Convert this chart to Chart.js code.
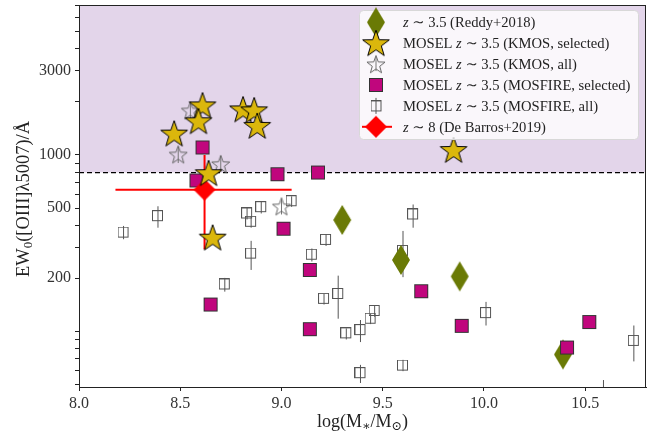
<!DOCTYPE html>
<html>
<head>
<meta charset="utf-8">
<script src="https://cdn.jsdelivr.net/npm/chart.js@4.4.1/dist/chart.umd.min.js"></script>
<style>
  html, body { margin: 0; padding: 0; background: #fff; }
  #wrap { width: 656px; height: 436px; position: relative; }
</style>
</head>
<body>
<div id="wrap"><canvas id="Chart"></canvas></div>
<script>
// Reddy+2018 (z~3.5)
const reddyMass = [9.30, 9.59, 9.88, 10.39];
const reddyEW = [428, 254, 205, 74];

// MOSEL KMOS, selected
const kmosSelMass = [8.47, 8.61, 8.59, 8.81, 8.865, 8.88, 8.64, 8.66, 9.85];
const kmosSelEW = [1322, 1910, 1552, 1813, 1790, 1461, 788, 340, 1067];

// MOSEL KMOS, all
const kmosAllMass = [8.55, 8.49, 8.70, 9.00];
const kmosAllEW = [1790, 1008, 890, 512];
const kmosAllLo = [1600, 900, 800, 460];
const kmosAllHi = [1950, 1110, 990, 560];

// MOSEL MOSFIRE, selected
const mosSelMass = [8.61, 8.58, 8.98, 9.18, 9.01, 9.14, 8.65, 9.14, 9.69, 9.89, 10.52, 10.41];
const mosSelEW = [1103, 717, 778, 795, 382, 223, 142, 103, 169, 107.5, 113, 81];

// MOSEL MOSFIRE, all
const mosAllMass = [8.22, 8.39, 8.83, 8.90, 8.85, 9.05, 8.85, 8.72, 9.22, 9.15, 9.21, 9.28,
                    9.32, 9.39, 9.44, 9.46, 9.39, 9.65, 9.60, 10.01, 9.60, 10.74, 10.59];
const mosAllEW = [363, 450, 466, 506, 418, 547, 276, 184.5, 330, 272, 153, 163,
                  97.5, 101.7, 118, 130.6, 58, 460, 286, 127, 64, 88.3, 40];
const mosAllLo = [333, 387, 431, 466, 387, 508, 223, 168, 305, 249, 142, 118,
                  90, 87, 110, 121, 51, 387, 203, 108, 59.5, 67.6, 30];
const mosAllHi = [396, 512, 501, 547, 450, 583, 326, 201, 355, 295, 163, 207,
                  104, 116, 126, 141, 64.6, 524, 371, 147, 69, 108, 53];

// De Barros+2019 (z~8)
const dbMass = [8.62];
const dbEW = [636];
const dbMassLo = [8.18];
const dbMassHi = [9.05];
const dbEWLo = [292];
const dbEWHi = [1000];

// EELG cut and axis ticks
const eelgCut = 795;
const xTicks = [8.0, 8.5, 9.0, 9.5, 10.0, 10.5];
const yTicks = [50, 60, 70, 80, 90, 100, 200, 300, 400, 500, 600, 700, 800, 900,
                1000, 2000, 3000, 4000, 5000, 6000, 7000];
const yLabels = [200, 500, 1000, 3000];

const serif = "'Liberation Serif', 'DejaVu Serif', serif";

// marker images
function makeMarker(w, h, draw) {
  const c = document.createElement('canvas');
  c.width = w; c.height = h;
  draw(c.getContext('2d'), w / 2, h / 2);
  return c;
}
function starPath(ctx, cx, cy, R, r) {
  ctx.beginPath();
  for (let i = 0; i < 10; i++) {
    const a = -Math.PI / 2 + i * Math.PI / 5;
    const rad = i % 2 === 0 ? R : r;
    ctx.lineTo(cx + rad * Math.cos(a), cy + rad * Math.sin(a));
  }
  ctx.closePath();
}
function diamondPath(ctx, cx, cy, hw, hh) {
  ctx.beginPath();
  ctx.moveTo(cx, cy - hh); ctx.lineTo(cx + hw, cy);
  ctx.lineTo(cx, cy + hh); ctx.lineTo(cx - hw, cy);
  ctx.closePath();
}

const goldStar = makeMarker(32, 32, (c, x, y) => {
  starPath(c, x, y + 1, 14, 5.6);
  c.fillStyle = '#dbb70c'; c.fill();
  c.strokeStyle = '#000'; c.lineWidth = 1; c.stroke();
});
const openStar = makeMarker(22, 22, (c, x, y) => {
  starPath(c, x, y + 1, 9.5, 3.9);
  c.strokeStyle = '#666'; c.lineWidth = 1; c.stroke();
});
const olive = makeMarker(20, 32, (c, x, y) => {
  diamondPath(c, x, y, 9, 15);
  c.fillStyle = '#6a7a05'; c.fill();
});
const magSquare = makeMarker(16, 16, (c, x, y) => {
  c.fillStyle = '#c0067d'; c.fillRect(1, 1, 14, 14);
  c.strokeStyle = '#333'; c.lineWidth = 1; c.strokeRect(1.5, 1.5, 13, 13);
});
const graySquare = makeMarker(12, 12, (c, x, y) => {
  c.strokeStyle = '#555'; c.lineWidth = 1; c.strokeRect(0.5, 0.5, 10, 10);
});
const redDiamond = makeMarker(24, 24, (c, x, y) => {
  diamondPath(c, x, y, 11, 11);
  c.fillStyle = '#ff0000'; c.fill();
});

function pts(xs, ys) { return xs.map((v, i) => ({x: v, y: ys[i]})); }

function vbar(ctx, xs, ys, m, lo, hi) {
  const px = xs.getPixelForValue(m);
  ctx.beginPath();
  ctx.moveTo(px, ys.getPixelForValue(lo));
  ctx.lineTo(px, ys.getPixelForValue(hi));
  ctx.stroke();
}

// draw text segments, italic / subscript where flagged; returns end x
function drawParts(ctx, parts, x, y, size) {
  parts.forEach(([t, it, sub]) => {
    const fs = sub ? size * 0.7 : size;
    ctx.font = (it ? 'italic ' : '') + fs + 'px ' + serif;
    ctx.fillText(t, x, y + (sub ? size * 0.25 : 0));
    x += ctx.measureText(t).width;
  });
  return x;
}
function partsWidth(ctx, parts, size) {
  let w = 0;
  parts.forEach(([t, it, sub]) => {
    const fs = sub ? size * 0.7 : size;
    ctx.font = (it ? 'italic ' : '') + fs + 'px ' + serif;
    w += ctx.measureText(t).width;
  });
  return w;
}

const legendRows = [
  {mk: 'reddy', parts: [['z', 1], [' \u223C 3.5 (Reddy+2018)', 0]]},
  {mk: 'kmosSel', parts: [['MOSEL ', 0], ['z', 1], [' \u223C 3.5 (KMOS, selected)', 0]]},
  {mk: 'kmosAll', parts: [['MOSEL ', 0], ['z', 1], [' \u223C 3.5 (KMOS, all)', 0]]},
  {mk: 'mosSel', parts: [['MOSEL ', 0], ['z', 1], [' \u223C 3.5 (MOSFIRE, selected)', 0]]},
  {mk: 'mosAll', parts: [['MOSEL ', 0], ['z', 1], [' \u223C 3.5 (MOSFIRE, all)', 0]]},
  {mk: 'db', parts: [['z', 1], [' \u223C 8 (De Barros+2019)', 0]]},
];

const extras = {
  id: 'extras',
  beforeDatasetsDraw(chart) {
    const {ctx, chartArea: a, scales: {x, y}} = chart;
    ctx.save();
    ctx.beginPath();
    ctx.rect(a.left, a.top, a.right - a.left, a.bottom - a.top);
    ctx.clip();
    const yc = y.getPixelForValue(eelgCut);
    ctx.fillStyle = '#e3d5ea';
    ctx.fillRect(a.left, a.top, a.right - a.left, yc - a.top);
    ctx.strokeStyle = '#000'; ctx.lineWidth = 1.2;
    ctx.setLineDash([5, 3]);
    ctx.beginPath(); ctx.moveTo(a.left, yc); ctx.lineTo(a.right, yc); ctx.stroke();
    ctx.setLineDash([]);

    // error bars
    ctx.strokeStyle = '#555'; ctx.lineWidth = 1;
    mosAllMass.forEach((m, i) => vbar(ctx, x, y, m, mosAllLo[i], mosAllHi[i]));
    ctx.strokeStyle = '#777';
    kmosAllMass.forEach((m, i) => vbar(ctx, x, y, m, kmosAllLo[i], kmosAllHi[i]));
    ctx.strokeStyle = '#ff0000'; ctx.lineWidth = 2;
    dbMass.forEach((m, i) => {
      vbar(ctx, x, y, m, dbEWLo[i], dbEWHi[i]);
      const py = y.getPixelForValue(dbEW[i]);
      ctx.beginPath();
      ctx.moveTo(x.getPixelForValue(dbMassLo[i]), py);
      ctx.lineTo(x.getPixelForValue(dbMassHi[i]), py);
      ctx.stroke();
    });
    ctx.restore();
  },
  afterDraw(chart) {
    const {ctx, chartArea: a} = chart;
    ctx.save();
    // frame
    ctx.strokeStyle = '#222'; ctx.lineWidth = 1;
    ctx.strokeRect(a.left + 0.5, a.top + 0.5, a.right - a.left - 1, a.bottom - a.top);

    // legend
    const lx = 359, ly = 10, lw = 279, lh = 129;
    ctx.fillStyle = 'rgba(255,255,255,0.8)';
    ctx.strokeStyle = '#d8d8d8';
    ctx.beginPath(); ctx.roundRect(lx + 0.5, ly + 0.5, lw, lh, 4); ctx.fill(); ctx.stroke();
    const mx = 376;
    legendRows.forEach((r, i) => {
      const cy = 22.3 + i * 20.9;
      if (r.mk === 'reddy') ctx.drawImage(olive, mx - 10, cy - 16);
      if (r.mk === 'kmosSel') ctx.drawImage(goldStar, mx - 16, cy - 16);
      if (r.mk === 'kmosAll') {
        ctx.drawImage(openStar, mx - 11, cy - 11);
        ctx.strokeStyle = '#777'; ctx.beginPath(); ctx.moveTo(mx, cy - 7); ctx.lineTo(mx, cy + 7); ctx.stroke();
      }
      if (r.mk === 'mosSel') ctx.drawImage(magSquare, mx - 8, cy - 8);
      if (r.mk === 'mosAll') {
        ctx.drawImage(graySquare, mx - 5.5, cy - 5.5);
        ctx.strokeStyle = '#555'; ctx.beginPath(); ctx.moveTo(mx, cy - 8); ctx.lineTo(mx, cy + 8); ctx.stroke();
      }
      if (r.mk === 'db') {
        ctx.strokeStyle = '#ff0000'; ctx.lineWidth = 2;
        ctx.beginPath(); ctx.moveTo(mx - 14, cy); ctx.lineTo(mx + 16, cy); ctx.stroke();
        ctx.lineWidth = 1;
        ctx.drawImage(redDiamond, mx - 12, cy - 12);
      }
      ctx.fillStyle = '#222';
      ctx.textBaseline = 'middle';
      ctx.textAlign = 'left';
      drawParts(ctx, r.parts, 403, cy + 1, 14.6);
    });

    // axis titles
    ctx.fillStyle = '#222';
    ctx.textBaseline = 'middle';
    ctx.textAlign = 'left';
    const xt = [['log(M', 0], ['\u2217', 0, 1], ['/M', 0], ['\u2299', 0, 1], [')', 0]];
    const xw = partsWidth(ctx, xt, 18);
    drawParts(ctx, xt, (a.left + a.right) / 2 - xw / 2, 422, 18);

    const yt = [['EW', 0], ['0', 0, 1], ['([OIII]\u03BB5007)/\u00C5', 0]];
    const yw = partsWidth(ctx, yt, 18.5);
    ctx.translate(24, 199);
    ctx.rotate(-Math.PI / 2);
    drawParts(ctx, yt, -yw / 2, 0, 18.5);
    ctx.restore();
  }
};

const tickFont = {family: serif, size: 16};

new Chart(document.getElementById('Chart'), {
  type: 'scatter',
  data: {
    datasets: [
      {label: 'kmosSel', data: pts(kmosSelMass, kmosSelEW), pointStyle: goldStar, order: 1},
      {label: 'db', data: pts(dbMass, dbEW), pointStyle: redDiamond, order: 2},
      {label: 'mosSel', data: pts(mosSelMass, mosSelEW), pointStyle: magSquare, order: 3},
      {label: 'reddy', data: pts(reddyMass, reddyEW), pointStyle: olive, order: 4},
      {label: 'kmosAll', data: pts(kmosAllMass, kmosAllEW), pointStyle: openStar, order: 5},
      {label: 'mosAll', data: pts(mosAllMass, mosAllEW), pointStyle: graySquare, order: 6},
    ]
  },
  options: {
    responsive: true,
    maintainAspectRatio: false,
    animation: false,
    events: [],
    layout: {padding: {top: 2, right: 10, left: 0, bottom: 0}},
    plugins: {legend: {display: false}, tooltip: {enabled: false}},
    scales: {
      x: {
        type: 'linear', min: 8.0, max: 10.8,
        afterBuildTicks: s => { s.ticks = xTicks.map(v => ({value: v})); },
        afterFit: s => { s.height = 49; s.paddingLeft = 0; s.paddingRight = 0; },
        grid: {drawOnChartArea: false, tickLength: 4, color: '#222'},
        border: {color: '#222'},
        ticks: {font: tickFont, color: '#333', padding: 3, maxRotation: 0,
                callback: v => Number(v).toFixed(1)}
      },
      y: {
        type: 'logarithmic', min: 48.4, max: 7080,
        afterBuildTicks: s => { s.ticks = yTicks.map(v => ({value: v})); },
        afterFit: s => { s.width = 79; s.paddingTop = 0; s.paddingBottom = 0; },
        grid: {drawOnChartArea: false, tickLength: 4, color: '#222'},
        border: {color: '#222'},
        ticks: {font: tickFont, color: '#333', padding: 4, autoSkip: false,
                callback: v => yLabels.includes(v) ? String(v) : ''}
      }
    }
  },
  plugins: [extras]
});
</script>
</body>
</html>
